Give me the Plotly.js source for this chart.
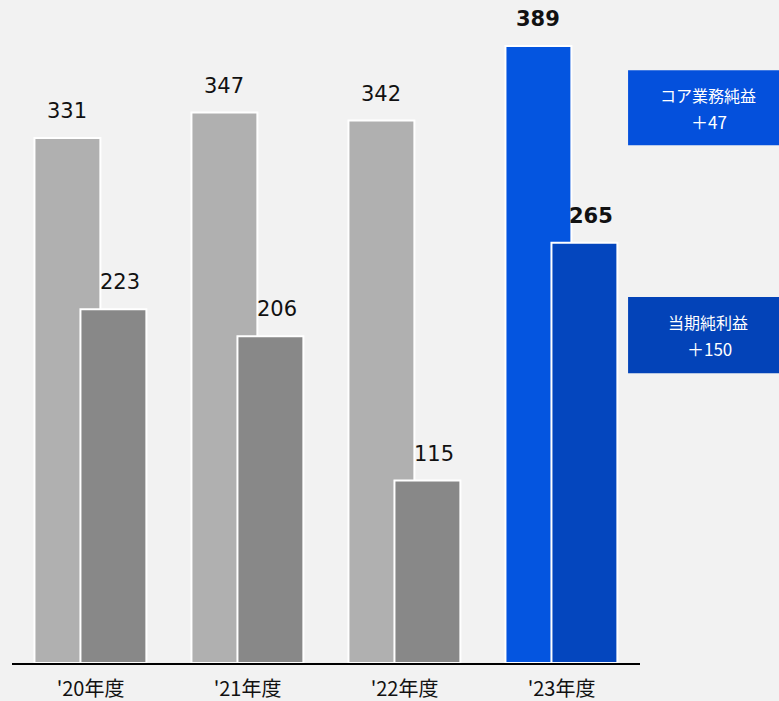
<!DOCTYPE html>
<html><head><meta charset="utf-8">
<script src="https://cdn.plot.ly/plotly-3.0.1.min.js"></script>
<style>html,body{margin:0;padding:0;background:#f2f2f2;}</style>
</head><body>
<div id="chart" style="width:779px;height:701px;"></div>
<script>
const categories = ["'20年度", "'21年度", "'22年度", "'23年度"];
const coreProfit = [331, 347, 342, 389];
const netIncome = [223, 206, 115, 265];
const coreColors = ["#b0b0b0", "#b0b0b0", "#b0b0b0", "#0455e0"];
const netColors = ["#888888", "#888888", "#888888", "#0446be"];
const boldLast = [false, false, false, true];
const boxTitles = ["コア業務純益", "当期純利益"];
const boxDeltas = ["＋47", "＋150"];

const idx = categories.map((c, i) => i);
const bw = 0.42;
const traces = [
  {type:'bar', x: idx, y: coreProfit, width: bw, offset: -0.357,
   marker:{color: coreColors, line:{color:'#ffffff', width:2}}, hoverinfo:'none'},
  {type:'bar', x: idx, y: netIncome, width: bw, offset: -0.064,
   marker:{color: netColors, line:{color:'#ffffff', width:2}}, hoverinfo:'none'}
];
const fontNum = "DejaVu Sans, Verdana, sans-serif";
const ann = [];
idx.forEach(i => {
  const b = boldLast[i];
  ann.push({x: i - 0.147, y: coreProfit[i], xref:'x', yref:'y', yanchor:'bottom', yshift: 13,
    text: b ? '<b>' + coreProfit[i] + '</b>' : String(coreProfit[i]), showarrow:false,
    font:{family: fontNum, size:21, color:'#111'}});
  ann.push({x: i + 0.19, y: netIncome[i], xref:'x', yref:'y', yanchor:'bottom', yshift: 13,
    text: b ? '<b>' + netIncome[i] + '</b>' : String(netIncome[i]), showarrow:false,
    font:{family: fontNum, size:21, color:'#111'}});
});
const boxes = [
  {y0: 0.781, y1: 0.894, mid: 0.837, color:'#0450dc'},
  {y0: 0.437, y1: 0.552, mid: 0.4947, color:'#0343b8'}
];
const shapes = boxes.map(bx => ({type:'rect', xref:'paper', yref:'paper', x0:0.981, x1:1.23,
  y0: bx.y0, y1: bx.y1, fillcolor: bx.color, line:{width:0}, layer:'above'}));
boxes.forEach((bx, k) => {
  ann.push({xref:'paper', yref:'paper', x: 1.108, y: bx.mid, text: boxTitles[k],
    showarrow:false, xanchor:'center', yanchor:'bottom', borderpad:0,
    font:{family:"Noto Sans CJK JP, sans-serif", size:16, color:'#ffffff'}});
  ann.push({xref:'paper', yref:'paper', x: 1.11, y: bx.mid, text: boxDeltas[k],
    showarrow:false, xanchor:'center', yanchor:'top', borderpad:0,
    font:{family:"Noto Sans CJK JP, sans-serif", size:17, color:'#ffffff'}});
});

const layout = {
  width: 779, height: 701,
  paper_bgcolor:'#f2f2f2', plot_bgcolor:'#f2f2f2',
  margin:{l:12, r:139, t:0, b:38},
  barmode:'overlay', showlegend:false,
  xaxis:{range:[-0.5, 3.5], tickvals: idx, ticktext: categories, showline:true, linecolor:'#000',
    linewidth:2, showgrid:false, zeroline:false, ticks:'', fixedrange:true, ticklabelstandoff: 7,
    tickfont:{family:"Noto Sans CJK JP, sans-serif", size:20, color:'#111'}},
  yaxis:{range:[0, 418], visible:false, showgrid:false, zeroline:false, fixedrange:true},
  annotations: ann, shapes: shapes
};
Plotly.newPlot('chart', traces, layout, {displayModeBar:false, staticPlot:true});
</script>
</body></html>
